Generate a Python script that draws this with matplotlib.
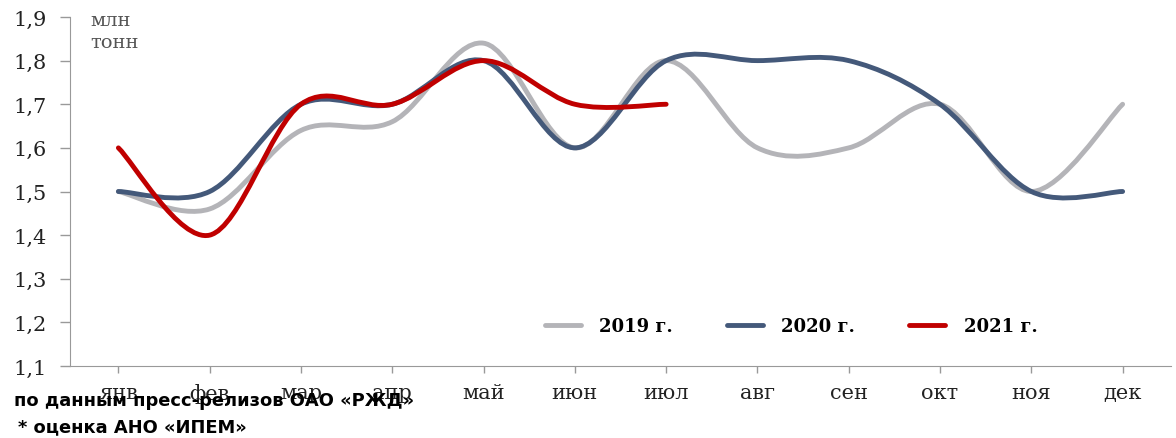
import matplotlib
matplotlib.use("Agg")
import matplotlib.pyplot as plt
from matplotlib.path import Path
from matplotlib.patches import PathPatch
from matplotlib.lines import Line2D

# данные (млн тонн)
months = ["янв", "фев", "мар", "апр", "май", "июн", "июл", "авг", "сен", "окт", "ноя", "дек"]
y2019 = [1.50, 1.46, 1.64, 1.66, 1.84, 1.60, 1.80, 1.60, 1.60, 1.70, 1.50, 1.70]
y2020 = [1.50, 1.50, 1.70, 1.70, 1.80, 1.60, 1.80, 1.80, 1.80, 1.70, 1.50, 1.50]
y2021 = [1.60, 1.40, 1.70, 1.70, 1.80, 1.70, 1.70]
yticks = [1.1, 1.2, 1.3, 1.4, 1.5, 1.6, 1.7, 1.8, 1.9]

series = [("2019 г.", y2019, "#b4b4b8"),
          ("2020 г.", y2020, "#44597a"),
          ("2021 г.", y2021, "#c00000")]


def smooth_path(xs, ys):
    # сглаживание как в Excel (кривые Безье)
    n = len(xs)
    verts = [(xs[0], ys[0])]
    codes = [Path.MOVETO]
    for i in range(n - 1):
        x0, y0 = (xs[i - 1], ys[i - 1]) if i > 0 else (xs[i], ys[i])
        x1, y1 = xs[i], ys[i]
        x2, y2 = xs[i + 1], ys[i + 1]
        x3, y3 = (xs[i + 2], ys[i + 2]) if i + 2 < n else (x2, y2)
        verts += [(x1 + (x2 - x0) / 6, y1 + (y2 - y0) / 6),
                  (x2 - (x3 - x1) / 6, y2 - (y3 - y1) / 6),
                  (x2, y2)]
        codes += [Path.CURVE4] * 3
    return Path(verts, codes)


fig = plt.figure(figsize=(11.76, 4.39), dpi=100)
ax = fig.add_axes([70 / 1176, 1 - 367 / 439, 1101 / 1176, 349 / 439])

handles = []
for name, vals, col in series:
    xs = list(range(len(vals)))
    ax.add_patch(PathPatch(smooth_path(xs, vals), facecolor="none",
                           edgecolor=col, lw=3.5, capstyle="round"))
    handles.append(Line2D([], [], color=col, lw=3.5, solid_capstyle="round"))

ax.set_xlim(-0.53, 11.53)
ax.set_ylim(1.1, 1.9)
ax.set_yticks(yticks)
ax.set_yticklabels([f"{v:.1f}".replace(".", ",") for v in yticks],
                   fontsize=15, family="DejaVu Serif", color="#222222")
ax.set_xticks(range(len(months)))
ax.set_xticklabels(months, fontsize=15, family="DejaVu Serif", color="#222222")
ax.tick_params(axis="y", length=7, width=1, color="#999999", pad=10)
ax.tick_params(axis="x", length=5, width=1, color="#999999", pad=7)
for s in ["top", "right"]:
    ax.spines[s].set_visible(False)
for s in ["left", "bottom"]:
    ax.spines[s].set_color("#999999")

ax.text(20 / 1101, 1 + 6 / 349, "млн\nтонн", transform=ax.transAxes,
        va="top", ha="left", fontsize=14, family="DejaVu Serif",
        color="#555555", linespacing=1.3)

ax.legend(handles, [s[0] for s in series], loc="center", ncol=3,
          bbox_to_anchor=(0.655, 0.115), frameon=False, handlelength=2.0,
          columnspacing=3.0, handletextpad=1.0,
          prop={"family": "DejaVu Serif", "weight": "bold", "size": 13})

fig.text(14 / 1176, 1 - 401 / 439, "по данным пресс-релизов ОАО «РЖД»",
         fontsize=12.9, weight="bold", family="DejaVu Sans", va="center")
fig.text(18 / 1176, 1 - 427 / 439, "* оценка АНО «ИПЕМ»",
         fontsize=12.9, weight="bold", family="DejaVu Sans", va="center")

fig.savefig("out.png", dpi=100)
